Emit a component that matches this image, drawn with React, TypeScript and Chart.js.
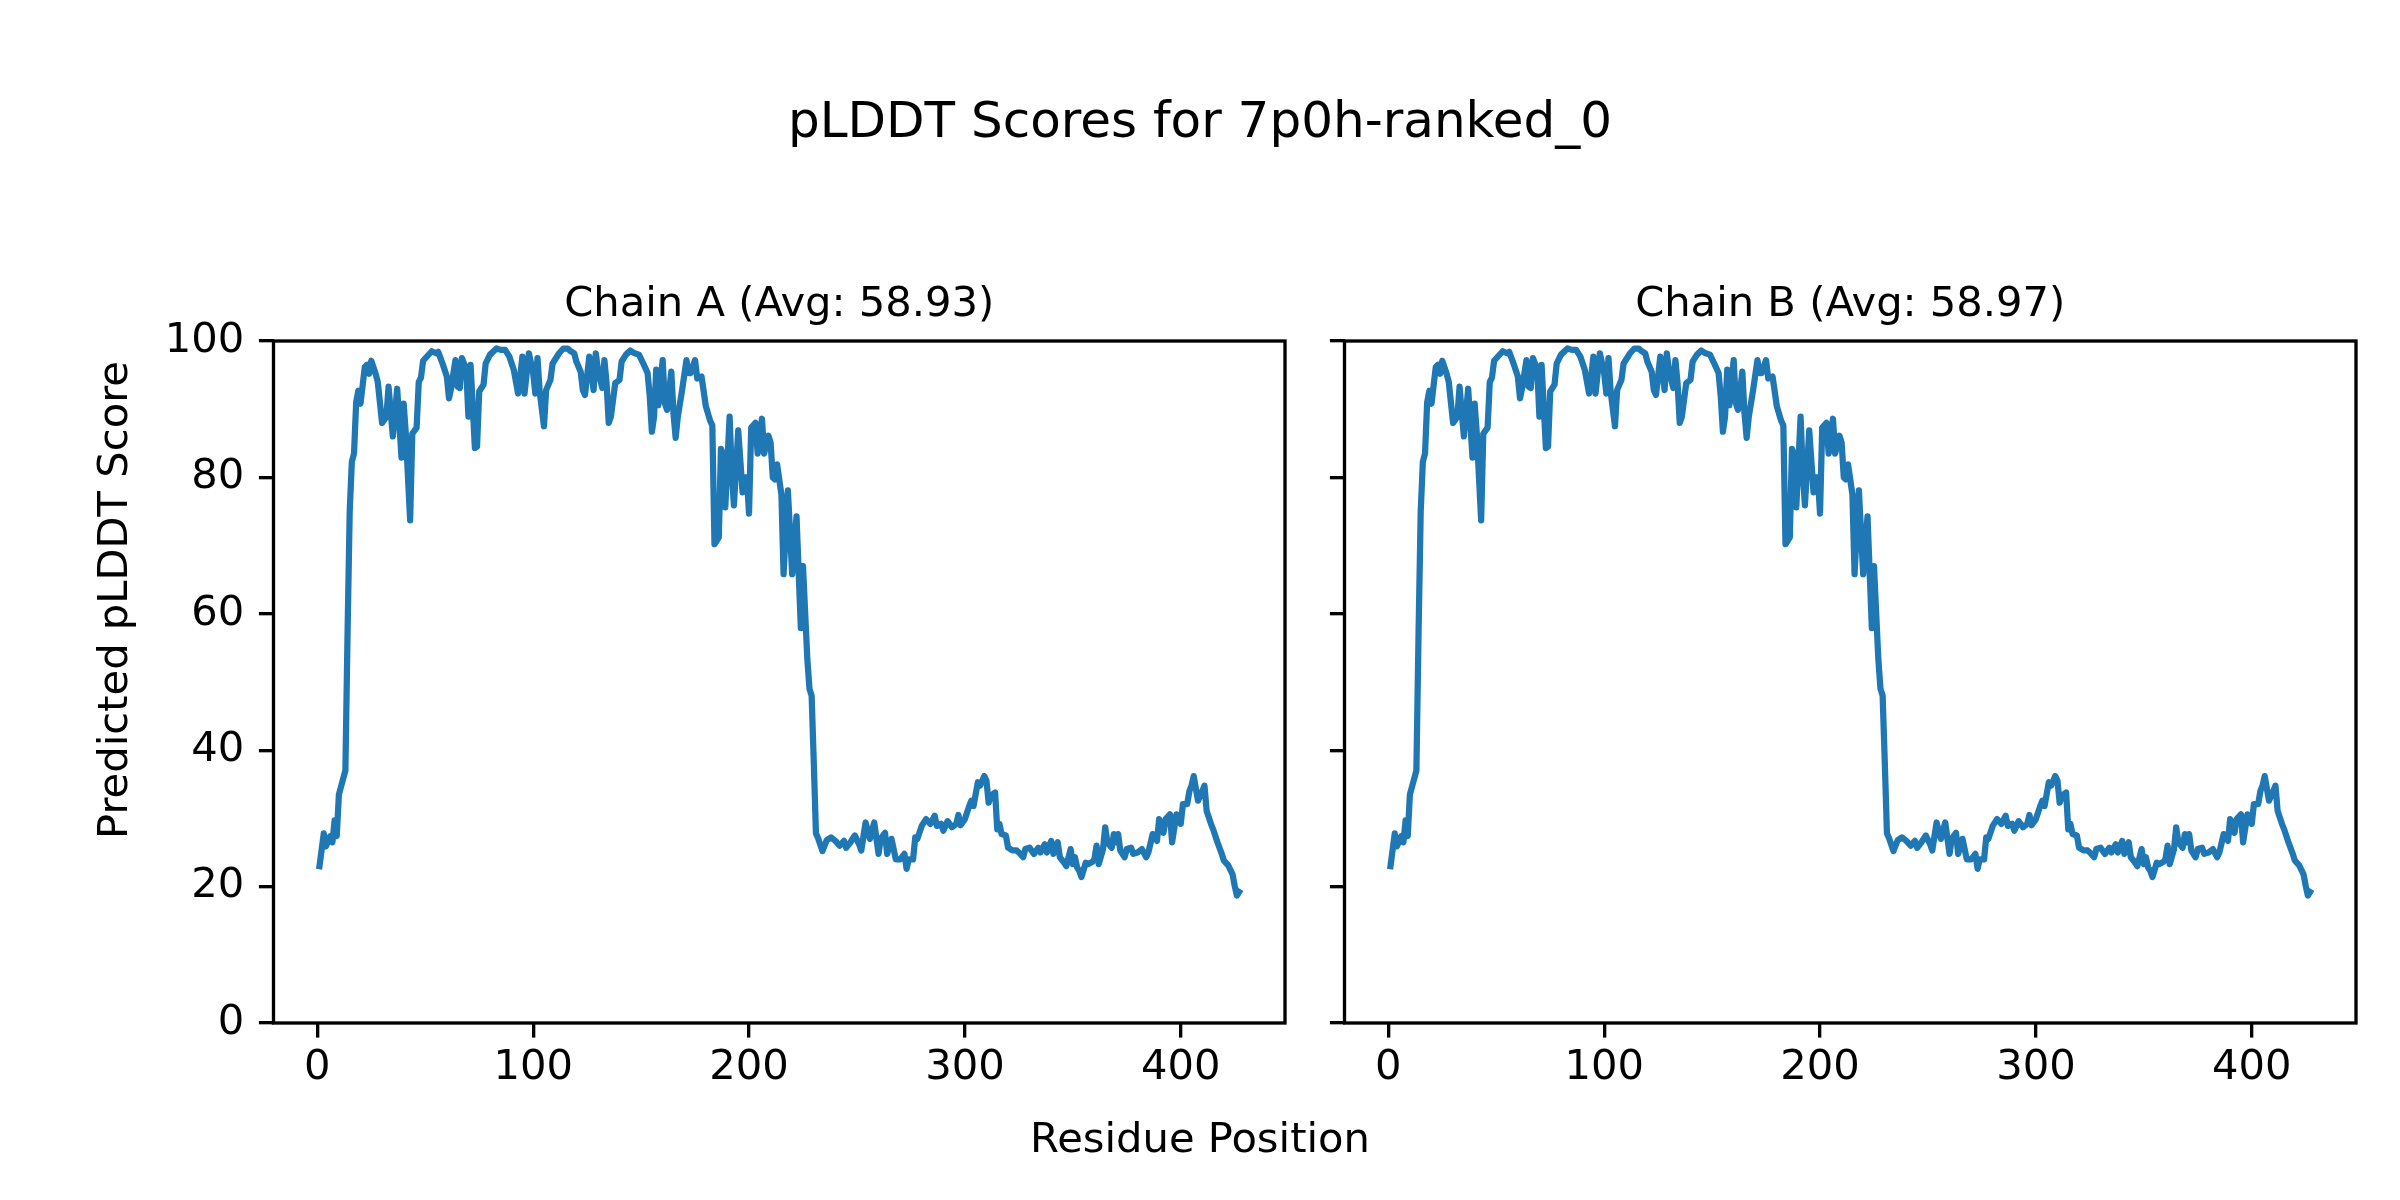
import React, { useEffect, useRef } from "react";
import { Chart, registerables } from "chart.js";

Chart.register(...registerables);

// ---------- data ----------
const figTitle = "pLDDT Scores for 7p0h-ranked_0";
const xLabel = "Residue Position";
const yLabel = "Predicted pLDDT Score";
const chainTitles = ["Chain A (Avg: 58.93)", "Chain B (Avg: 58.97)"];

const xTicks = [0, 100, 200, 300, 400];
const yTicks = [0, 20, 40, 60, 80, 100];

const residuesA = [
  1, 3, 4, 6, 7, 8, 9, 10, 13, 14, 15, 16, 17, 18, 19, 20, 22, 23, 24, 25, 27, 28, 30, 32, 33, 35, 37, 39, 40, 41,
  43, 44, 46, 47, 48, 49, 51, 53, 55, 56, 58, 60, 61, 62, 64, 65, 66, 67, 69, 70, 71, 73, 74, 75, 77, 78, 80, 83, 85, 87,
  89, 91, 93, 94, 95, 96, 98, 100, 101, 102, 103, 105, 106, 108, 109, 112, 114, 116, 117, 119, 120, 122, 123, 124, 126, 127, 128, 129, 130, 132,
  133, 134, 135, 136, 138, 140, 141, 143, 145, 147, 149, 151, 153, 154, 155, 156, 157, 158, 160, 161, 162, 164, 165, 166, 167, 169, 171, 172, 173, 175,
  176, 178, 180, 182, 183, 184, 186, 187, 188, 189, 191, 192, 193, 195, 197, 198, 199, 200, 201, 203, 204, 206, 207, 209, 210, 211, 212, 213, 215, 216,
  218, 220, 222, 224, 225, 227, 228, 229, 230, 231, 232, 234, 236, 238, 240, 242, 244, 245, 247, 249, 251, 252, 254, 256, 258, 260, 261, 263, 264, 266,
  268, 270, 272, 273, 274, 276, 277, 278, 280, 282, 284, 286, 287, 289, 290, 292, 294, 296, 297, 298, 300, 302, 303, 304, 306, 307, 309, 310, 311, 312,
  314, 315, 316, 317, 319, 320, 322, 324, 325, 327, 328, 330, 332, 334, 335, 337, 338, 340, 341, 343, 344, 346, 347, 349, 350, 351, 352, 353, 354, 356,
  357, 359, 360, 361, 362, 364, 365, 366, 368, 369, 370, 371, 372, 374, 375, 377, 378, 380, 382, 384, 385, 387, 389, 390, 392, 393, 395, 396, 398, 400,
  401, 403, 404, 405, 406, 408, 410, 411, 412, 414, 415, 417, 419, 420, 422, 424, 425, 426, 427,
];

const scoresA = [
  23, 27.8, 25.9, 27.4, 26.5, 29.7, 27.4, 33.5, 37, 57, 75, 82.3, 83.5, 91, 92.7, 90.8, 96.2, 96.5, 95.2, 97.1, 95.2, 94, 88, 88.9, 93.3, 86, 93, 82.9, 90.8, 86.4,
  73.7, 86.4, 87.3, 94, 94.6, 97.1, 97.8, 98.5, 98.2, 98.4, 96.7, 94.8, 91.6, 93.1, 97.2, 93.3, 93.1, 97.5, 95.8, 88.9, 96.5, 84.3, 84.5, 92.6, 93.6, 96.7, 98, 98.9, 98.7, 98.7,
  97.7, 95.8, 92.3, 94.8, 97.7, 92.3, 98.2, 95.3, 92.3, 97.5, 92.6, 87.5, 92.8, 94.3, 96.7, 98.2, 98.9, 98.9, 98.6, 98.2, 97, 95.5, 92.8, 92.1, 97.7, 95.3, 92.8, 98.2, 95.8, 93.1,
  97.2, 93.8, 88, 88.9, 93.8, 94.3, 97, 98, 98.6, 98.2, 98, 96.7, 95.3, 91.9, 86.7, 88.9, 95.8, 90.6, 97.2, 90.9, 89.9, 95.5, 89.4, 85.8, 88.9, 92.8, 97.2, 95.3, 95.3, 97.2,
  94.5, 94.8, 90.4, 88.3, 87.6, 70.2, 71.2, 84.2, 83.2, 75.6, 88.9, 80.7, 75.9, 86.9, 77.8, 80, 80, 74.7, 87.3, 88, 83.5, 88.6, 83.5, 86.1, 85.1, 80, 79.7, 81.9, 77.5, 65.8,
  78.1, 65.8, 74.3, 57.9, 67, 53.4, 49, 48, 38.2, 27.8, 27.1, 25.2, 26.8, 27.2, 26.7, 26, 26.7, 25.7, 26.5, 27.5, 26.2, 25.3, 29.4, 27, 29.4, 24.8, 27, 27.9, 24.8, 27,
  24, 24, 24.8, 22.6, 24, 24, 27.2, 27, 28.9, 29.9, 29.2, 30.4, 28.9, 29.2, 28.2, 29.6, 28.7, 29.2, 30.5, 29, 29.9, 31.8, 32.6, 31.8, 35.3, 34.8, 36.2, 35.5, 32.3, 33.3,
  33.8, 28.4, 29.2, 27.7, 27.5, 25.7, 25.3, 25.3, 25, 24.3, 25.5, 25.7, 24.8, 25.7, 25, 26.2, 25, 26.7, 24.8, 26.5, 24.3, 23.5, 23, 25.5, 23.3, 24.3, 22.8, 22.3, 21.4, 23.5,
  23.3, 23.6, 24, 26, 23.3, 25.5, 28.7, 26.5, 25.7, 27.7, 26.5, 27.7, 25.3, 24.3, 25.5, 25.7, 24.8, 25, 25.5, 24.3, 25, 27.7, 26.7, 29.9, 27.9, 29.9, 30.6, 26.5, 30.6, 29.2,
  32.1, 32.1, 34, 34.8, 36.2, 32.6, 34, 34.8, 31.1, 29.2, 28.4, 26.5, 24.8, 23.8, 23.1, 21.8, 20.1, 18.7, 19.2,
];

const residuesB = residuesA.slice();
const scoresB = scoresA.slice();

// ---------- layout / style ----------
const W = 2400;
const H = 1200;
const FONT = '"DejaVu Sans", "Liberation Sans", sans-serif';
const LABEL_PX = 41.67;
const TITLE_PX = 50;
const SPINE_W = 3.33;
const TICK_LEN = 14.6;
const LINE_COLOR = "#1f77b4";

const PLOT_TOP = 341;
const PLOT_BOTTOM = 1023;
const PANELS = [
  { left: 273.5, right: 1285, residues: residuesA, scores: scoresA, title: chainTitles[0], showY: true },
  { left: 1344.5, right: 2356, residues: residuesB, scores: scoresB, title: chainTitles[1], showY: false },
];
const X_MIN = -20.3;
const X_MAX = 448.3;

function makeFramePlugin(title: string, drawFigureText: boolean) {
  return {
    id: "frameAndText",
    afterDatasetsDraw(chart: any) {
      const { ctx, chartArea } = chart;
      ctx.save();
      ctx.strokeStyle = "#000";
      ctx.lineWidth = SPINE_W;
      ctx.lineJoin = "miter";
      ctx.strokeRect(chartArea.left, chartArea.top, chartArea.right - chartArea.left, chartArea.bottom - chartArea.top);
      ctx.restore();
    },
    afterDraw(chart: any) {
      const { ctx, chartArea } = chart;
      ctx.save();
      ctx.fillStyle = "#000";
      ctx.textAlign = "center";
      ctx.textBaseline = "alphabetic";
      ctx.font = `${LABEL_PX}px ${FONT}`;
      ctx.fillText(title, (chartArea.left + chartArea.right) / 2, 316);
      if (drawFigureText) {
        ctx.font = `${TITLE_PX}px ${FONT}`;
        ctx.fillText(figTitle, W / 2, 137);
        ctx.font = `${LABEL_PX}px ${FONT}`;
        ctx.fillText(xLabel, W / 2, 1151.7);
        ctx.save();
        ctx.translate(127, H / 2);
        ctx.rotate(-Math.PI / 2);
        ctx.fillText(yLabel, 0, 0);
        ctx.restore();
      }
      ctx.restore();
    },
  };
}

function Panel({ idx }: { idx: number }) {
  const ref = useRef<HTMLCanvasElement | null>(null);
  useEffect(() => {
    const p = PANELS[idx];
    const canvas = ref.current;
    if (!canvas) return;
    const tickFont = { family: FONT, size: LABEL_PX, lineHeight: 1.2 };
    const gridOpts = {
      display: true,
      drawOnChartArea: false,
      drawTicks: true,
      tickLength: TICK_LEN,
      tickWidth: SPINE_W,
      color: "#000",
      lineWidth: SPINE_W,
    };
    const chart = new Chart(canvas, {
      type: "line",
      data: {
        datasets: [
          {
            data: p.residues.map((x, k) => ({ x, y: p.scores[k] })),
            borderColor: LINE_COLOR,
            borderWidth: 6.25,
            pointRadius: 0,
            tension: 0,
            borderJoinStyle: "round",
            borderCapStyle: "square",
            fill: false,
          },
        ],
      },
      options: {
        responsive: false,
        animation: false,
        devicePixelRatio: 1,
        events: [],
        layout: {
          padding: { left: 0, right: W - p.right, top: PLOT_TOP, bottom: 77 },
        },
        plugins: {
          legend: { display: false },
          tooltip: { enabled: false },
          title: { display: false },
        },
        scales: {
          x: {
            type: "linear",
            min: X_MIN,
            max: X_MAX,
            afterBuildTicks: (s: any) => {
              s.ticks = xTicks.map((v) => ({ value: v }));
            },
            afterFit: (s: any) => {
              s.height = H - PLOT_BOTTOM - 77;
              s.paddingLeft = 0;
              s.paddingRight = 0;
            },
            ticks: {
              font: tickFont,
              color: "#000",
              padding: 5.4,
              maxRotation: 0,
              minRotation: 0,
              autoSkip: false,
            },
            grid: gridOpts,
            border: { display: false },
          },
          y: {
            type: "linear",
            min: 0,
            max: 100,
            afterBuildTicks: (s: any) => {
              s.ticks = yTicks.map((v) => ({ value: v }));
            },
            afterFit: (s: any) => {
              s.width = p.left;
              s.paddingTop = 0;
              s.paddingBottom = 0;
            },
            ticks: {
              display: p.showY,
              font: tickFont,
              color: "#000",
              padding: TICK_LEN,
              autoSkip: false,
            },
            grid: gridOpts,
            border: { display: false },
          },
        },
      },
      plugins: [makeFramePlugin(p.title, idx === 0)],
    } as any);
    return () => chart.destroy();
  }, [idx]);
  return (
    <canvas
      ref={ref}
      width={W}
      height={H}
      style={{ position: "absolute", left: 0, top: 0, width: W, height: H }}
    />
  );
}

export default function App() {
  return (
    <div
      style={{
        position: "fixed",
        left: 0,
        top: 0,
        width: W,
        height: H,
        background: "#fff",
        overflow: "hidden",
      }}
    >
      <Panel idx={0} />
      <Panel idx={1} />
    </div>
  );
}
